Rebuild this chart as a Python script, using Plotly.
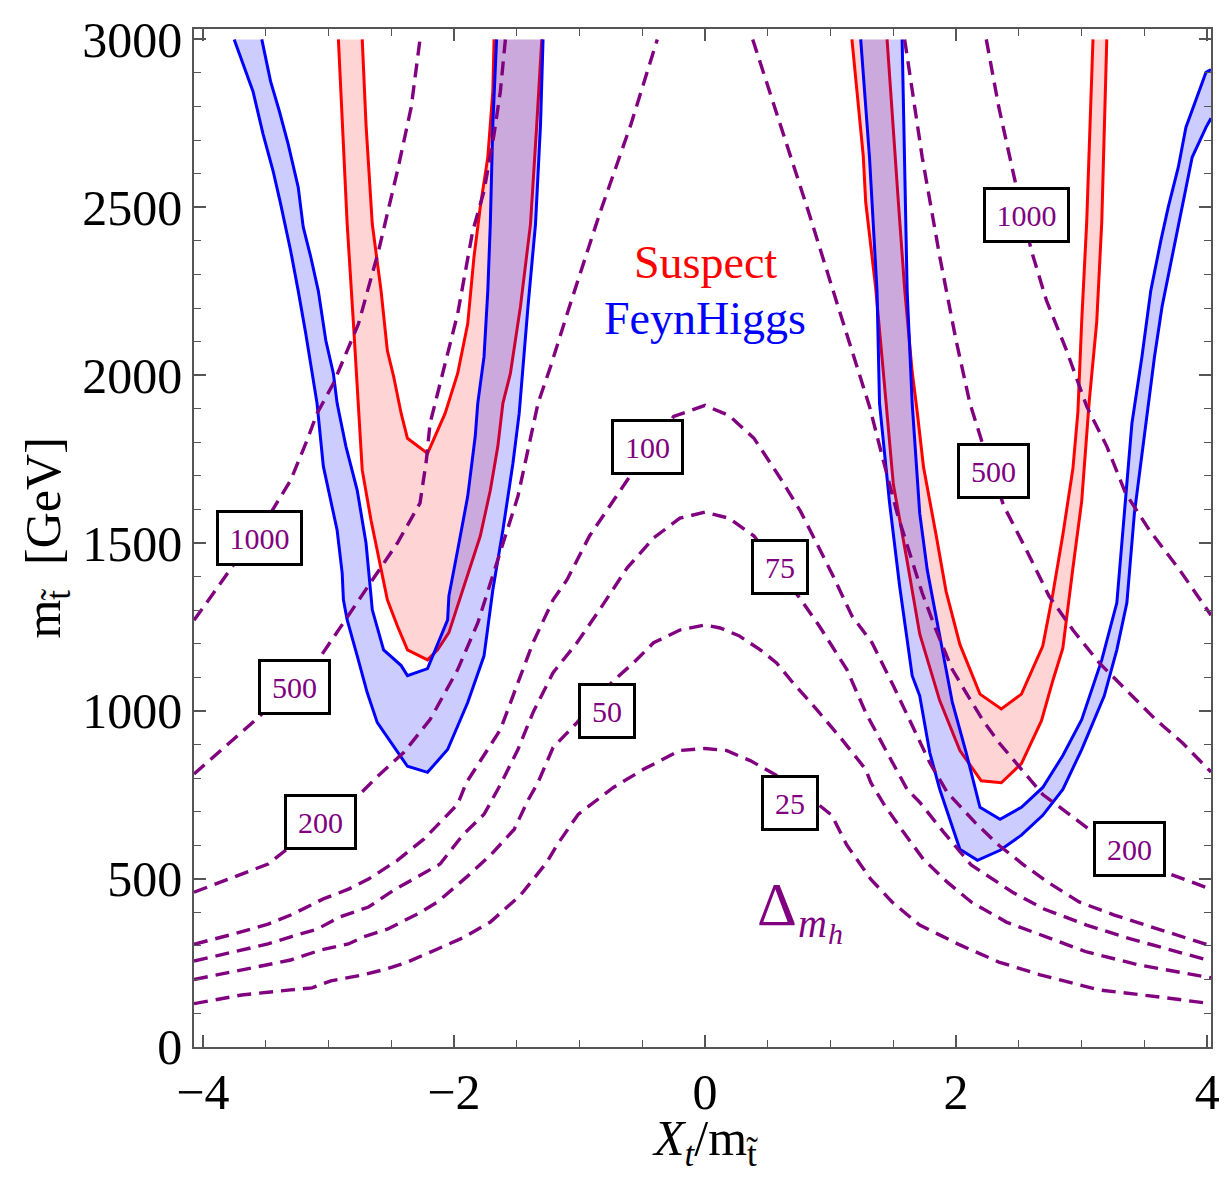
import plotly.graph_objects as go

# ---------------- data (X_t/m_stop , m_stop [GeV]) ----------------
# FeynHiggs (blue) band, left
fhL_out_x = [-3.75, -3.60, -3.52, -3.44, -3.38, -3.30, -3.24, -3.18, -3.09, -3.04, -2.93, -2.89, -2.88, -2.85, -2.77,
             -2.69, -2.61, -2.53, -2.37, -2.21, -2.05, -1.89, -1.76, -1.69, -1.61, -1.53, -1.48, -1.41, -1.35, -1.31, -1.29]
fhL_out_m = [3000, 2845, 2718, 2608, 2510, 2370, 2251, 2124, 1916, 1729, 1538, 1411, 1331, 1271, 1164,
             1054, 965, 921, 835, 817, 885, 1025, 1164, 1360, 1538, 1737, 1886, 2204, 2450, 2747, 3000]
fhL_in_x = [-3.53, -3.46, -3.39, -3.32, -3.24, -3.20, -3.14, -3.08, -3.02, -2.96, -2.93, -2.86, -2.77, -2.70, -2.66,
            -2.65, -2.56, -2.42, -2.37, -2.21, -2.05, -2.04, -1.97, -1.89, -1.83, -1.81, -1.76, -1.73, -1.71, -1.69, -1.66]
fhL_in_m = [3000, 2875, 2786, 2688, 2560, 2441, 2352, 2251, 2103, 2005, 1916, 1788, 1657, 1500, 1342,
            1301, 1182, 1135, 1105, 1126, 1271, 1342, 1479, 1639, 1818, 1916, 2055, 2251, 2450, 2747, 3000]

# Suspect (red) band, left
spL_out_x = [-2.92, -2.89, -2.85, -2.80, -2.76, -2.73, -2.66, -2.60, -2.53, -2.45, -2.37, -2.21, -2.13, -2.04,
             -1.89, -1.79, -1.71, -1.65, -1.61, -1.55, -1.47, -1.39, -1.34, -1.30]
spL_out_m = [3000, 2747, 2450, 2153, 1916, 1717, 1568, 1461, 1331, 1253, 1182, 1152, 1182, 1233,
             1402, 1521, 1657, 1788, 1916, 2005, 2204, 2450, 2747, 3000]
spL_in_x = [-2.73, -2.70, -2.65, -2.58, -2.53, -2.48, -2.42, -2.37, -2.21, -2.07, -1.97, -1.89, -1.84, -1.79,
            -1.73, -1.69, -1.68]
spL_in_m = [3000, 2747, 2450, 2251, 2073, 1996, 1886, 1812, 1767, 1886, 2005, 2153, 2352, 2501,
            2649, 2845, 3000]

# FeynHiggs (blue) band, right
fhR_out_x = [1.24, 1.31, 1.37, 1.39, 1.47, 1.55, 1.65, 1.71, 1.79, 1.87, 2.03, 2.17, 2.35, 2.52, 2.69, 2.85,
             3.00, 3.18, 3.28, 3.36, 3.42, 3.51, 3.58, 3.64, 3.72, 3.80, 3.88, 3.99, 4.03]
fhR_out_m = [3000, 2649, 2251, 1916, 1619, 1372, 1105, 1045, 876, 766, 588, 555, 585, 630, 689, 766,
             885, 1045, 1182, 1322, 1589, 1856, 2055, 2204, 2352, 2501, 2649, 2738, 2765]
fhR_in_x = [1.57, 1.59, 1.61, 1.65, 1.71, 1.77, 1.87, 1.97, 2.08, 2.19, 2.35, 2.52, 2.69, 2.85, 3.00, 3.16,
            3.28, 3.34, 3.40, 3.48, 3.55, 3.63, 3.69, 3.77, 3.83, 3.99, 4.03]
fhR_in_m = [3000, 2649, 2251, 1916, 1589, 1420, 1224, 1025, 876, 713, 677, 713, 772, 867, 974, 1152,
            1322, 1589, 1856, 2055, 2251, 2400, 2501, 2620, 2738, 2902, 2910]

# Suspect (red) band, right
spR_out_x = [1.17, 1.26, 1.28, 1.36, 1.42, 1.46, 1.50, 1.61, 1.71, 1.87, 2.03, 2.20, 2.36, 2.52, 2.68, 2.77,
             2.85, 2.93, 3.00, 3.06, 3.12, 3.16, 3.18, 3.20]
spR_out_m = [3000, 2655, 2515, 2257, 2010, 1832, 1675, 1446, 1229, 1030, 882, 792, 786, 843, 971, 1090,
             1187, 1425, 1624, 1921, 2159, 2456, 2753, 3000]
spR_in_x = [1.45, 1.51, 1.54, 1.59, 1.65, 1.69, 1.74, 1.84, 1.92, 2.03, 2.19, 2.36, 2.52, 2.69, 2.77, 2.85,
            2.93, 2.97, 3.00, 3.04, 3.07, 3.09]
spR_in_m = [3000, 2655, 2515, 2257, 2010, 1891, 1727, 1525, 1356, 1198, 1050, 1006, 1050, 1193, 1348, 1525,
            1721, 1891, 2159, 2456, 2753, 3000]

# Delta m_h contours (dashed)
c25_x = [-4.07, -3.69, -3.30, -3.13, -2.98, -2.72, -2.53, -2.37, -2.13, -1.93, -1.71, -1.47, -1.26, -1.18, -1.01,
         -0.78, -0.73, -0.49, -0.20, 0.0, 0.17, 0.36, 0.57, 0.91, 1.01, 1.13, 1.32, 1.49, 1.71, 2.03, 2.34, 2.67,
         3.14, 3.62, 4.03]
c25_m = [128, 154, 169, 175, 196, 214, 232, 252, 291, 324, 371, 451, 549, 600, 692,
         757, 772, 826, 882, 888, 882, 852, 808, 719, 689, 600, 499, 431, 362, 303, 252, 214,
         169, 148, 128]
c50_x = [-4.07, -3.69, -3.48, -3.30, -3.06, -2.84, -2.72, -2.53, -2.29, -2.13, -1.90, -1.71, -1.52, -1.41, -1.33,
         -1.21, -1.02, -0.73, -0.57, -0.41, -0.20, 0.0, 0.12, 0.27, 0.44, 0.57, 0.70, 0.89, 1.09, 1.28, 1.32,
         1.43, 1.58, 1.74, 1.93, 2.12, 2.40, 2.67, 3.04, 3.45, 4.03]
c50_m = [200, 229, 244, 258, 288, 306, 327, 350, 395, 431, 505, 570, 647, 734, 787,
         891, 965, 1090, 1143, 1203, 1241, 1256, 1247, 1224, 1182, 1143, 1084, 1004, 915, 826, 787,
         719, 639, 558, 490, 431, 371, 333, 282, 244, 205]
c75_x = [-4.07, -3.75, -3.48, -3.30, -3.09, -2.91, -2.68, -2.48, -2.29, -2.11, -1.93, -1.76, -1.63, -1.49, -1.37,
         -1.21, -1.02, -0.84, -0.62, -0.41, -0.20, 0.0, 0.19, 0.39, 0.77, 0.91, 1.13, 1.28, 1.45, 1.61, 1.71,
         1.90, 2.12, 2.45, 2.70, 3.04, 3.39, 4.03]
c75_m = [255, 282, 306, 327, 350, 386, 416, 466, 505, 544, 630, 692, 780, 885, 995,
         1114, 1203, 1301, 1426, 1515, 1574, 1592, 1574, 1521, 1328, 1253, 1123, 995, 876, 766, 728,
         639, 541, 460, 410, 362, 321, 255]
c100_x = [-4.07, -3.75, -3.48, -3.30, -3.04, -2.84, -2.68, -2.45, -2.24, -2.09, -1.97, -1.90, -1.63, -1.49, -1.37,
          -1.21, -1.10, -0.92, -0.76, -0.62, -0.25, 0.0, 0.19, 0.39, 0.60, 0.76, 0.86, 1.02, 1.17, 1.33, 1.50,
          1.69, 1.79, 1.93, 2.15, 2.34, 2.54, 2.73, 2.98, 3.26, 3.62, 4.03]
c100_m = [305, 336, 365, 392, 440, 469, 499, 555, 618, 674, 722, 787, 944, 1084, 1203,
          1331, 1390, 1521, 1610, 1687, 1877, 1910, 1880, 1812, 1693, 1595, 1521, 1402, 1283, 1203, 1075,
          927, 846, 757, 668, 600, 541, 490, 431, 392, 350, 300]
c200L_x = [-4.07, -3.75, -3.48, -3.34, -2.76, -2.60, -2.40, -2.19, -1.97, -1.81, -1.65, -1.49, -1.33, -1.23,
           -1.08, -0.84, -0.59, -0.38]
c200L_m = [460, 505, 544, 585, 748, 808, 876, 974, 1123, 1262, 1449, 1639, 1916, 2026,
           2204, 2480, 2747, 3000]
c200R_x = [0.38, 0.60, 0.83, 1.07, 1.17, 1.31, 1.42, 1.53, 1.63, 1.73, 1.84, 1.97, 2.08, 2.21, 2.34, 2.51,
           2.69, 2.88, 3.06, 3.66, 3.88, 4.03]
c200R_m = [3000, 2747, 2480, 2192, 2073, 1907, 1746, 1589, 1470, 1351, 1241, 1123, 1054, 974, 906, 832,
           751, 698, 647, 520, 490, 469]
c500L_x = [-4.07, -4.01, -3.56, -3.08, -2.84, -2.66, -2.45, -2.27, -2.22, -2.19, -2.09, -1.97, -1.85, -1.76,
           -1.68, -1.63, -1.59]
c500L_m = [812, 832, 980, 1152, 1283, 1381, 1500, 1619, 1744, 1856, 2005, 2183, 2429, 2548,
           2718, 2845, 3000]
c500R_x = [1.59, 1.73, 1.87, 2.00, 2.11, 2.16, 2.21, 2.38, 2.56, 2.74, 2.93, 3.14, 3.35, 3.59, 3.80, 4.03]
c500R_m = [3000, 2649, 2352, 2103, 1916, 1856, 1797, 1610, 1479, 1342, 1241, 1143, 1063, 974, 906, 818]
c1000L_x = [-4.07, -4.01, -3.45, -3.30, -3.17, -3.09, -2.96, -2.76, -2.60, -2.45, -2.34, -2.27]
c1000L_m = [1270, 1301, 1595, 1687, 1806, 1886, 1975, 2153, 2370, 2608, 2798, 3000]
c1000R_x = [2.24, 2.34, 2.48, 2.60, 2.72, 2.88, 3.04, 3.20, 3.35, 3.54, 3.78, 4.01, 4.03]
c1000R_m = [3000, 2798, 2560, 2370, 2222, 2073, 1907, 1788, 1648, 1538, 1420, 1292, 1285]

# contour labels
label_text = ["1000", "500", "200", "100", "75", "50", "25", "200", "500", "1000"]
label_x = [-3.55, -3.27, -3.06, -0.46, 0.60, -0.78, 0.68, 3.38, 2.30, 2.56]
label_m = [1515, 1072, 668, 1785, 1429, 1001, 725, 588, 1714, 2477]

x_ticks = [-4, -2, 0, 2, 4]
y_ticks = [0, 500, 1000, 1500, 2000, 2500, 3000]

# ---------------- styling ----------------
RED = "#FF0000"
BLUE = "#0000FF"
PURPLE = "#800080"
RED_FILL = "rgba(255,0,0,0.17)"
BLUE_FILL = "rgba(0,0,255,0.20)"
FONT = "Liberation Serif"
FRAME = "#555555"

fig = go.Figure()


def band(xo, mo, xi, mi, fill, color):
    fig.add_trace(go.Scatter(x=xo + xi[::-1], y=mo + mi[::-1], mode="lines", fill="toself",
                             fillcolor=fill, line=dict(width=0), hoverinfo="skip"))
    for xs, ms in ((xo, mo), (xi, mi)):
        fig.add_trace(go.Scatter(x=xs, y=ms, mode="lines", line=dict(color=color, width=3),
                                 hoverinfo="skip"))


band(spL_out_x, spL_out_m, spL_in_x, spL_in_m, RED_FILL, RED)
band(spR_out_x, spR_out_m, spR_in_x, spR_in_m, RED_FILL, RED)
band(fhL_out_x, fhL_out_m, fhL_in_x, fhL_in_m, BLUE_FILL, BLUE)
band(fhR_out_x, fhR_out_m, fhR_in_x, fhR_in_m, BLUE_FILL, BLUE)

for xs, ms in ((c25_x, c25_m), (c50_x, c50_m), (c75_x, c75_m), (c100_x, c100_m),
               (c200L_x, c200L_m), (c200R_x, c200R_m), (c500L_x, c500L_m), (c500R_x, c500R_m),
               (c1000L_x, c1000L_m), (c1000R_x, c1000R_m)):
    fig.add_trace(go.Scatter(x=xs, y=ms, mode="lines",
                             line=dict(color=PURPLE, width=3.4, dash="14px,8px"), hoverinfo="skip"))

annotations = []
for t, lx, lm in zip(label_text, label_x, label_m):
    w = {4: 81, 3: 67, 2: 52}[len(t)]
    annotations.append(dict(x=lx, y=lm, xref="x", yref="y", text=t, showarrow=False,
                            font=dict(family=FONT, size=30, color=PURPLE),
                            bgcolor="white", bordercolor="black", borderwidth=3, borderpad=0,
                            width=w, height=50, align="center", valign="middle"))

annotations += [
    dict(x=0.0, y=2335, xref="x", yref="y", text="Suspect", showarrow=False,
         font=dict(family=FONT, size=46, color=RED)),
    dict(x=0.0, y=2170, xref="x", yref="y", text="FeynHiggs", showarrow=False,
         font=dict(family=FONT, size=46, color=BLUE)),
    dict(x=0.57, y=425, xref="x", yref="y", text="Δ", showarrow=False,
         font=dict(family=FONT, size=62, color=PURPLE)),
    dict(x=0.86, y=366, xref="x", yref="y", text="<i>m</i>", showarrow=False,
         font=dict(family=FONT, size=40, color=PURPLE)),
    dict(x=1.04, y=338, xref="x", yref="y", text="<i>h</i>", showarrow=False,
         font=dict(family=FONT, size=30, color=PURPLE)),
    dict(x=0.5025, y=-0.093, xref="paper", yref="paper", text="<i>X</i><sub><i>t</i></sub>/m<sub>t̃</sub>",
         showarrow=False, font=dict(family=FONT, size=50, color="black"), yanchor="middle"),
    dict(x=-0.145, y=0.5, xref="paper", yref="paper", text="m<sub>t̃</sub>\u00a0\u00a0[GeV]",
         showarrow=False, textangle=-90, font=dict(family=FONT, size=50, color="black"),
         xanchor="center", yanchor="middle"),
]

axis_common = dict(showgrid=False, zeroline=False, showline=True, linecolor=FRAME, linewidth=1.5,
                   mirror="ticks", ticks="inside", ticklen=12, tickwidth=1.5, tickcolor=FRAME,
                   tickfont=dict(family=FONT, size=50, color="black"))

fig.update_layout(
    width=1232, height=1178,
    margin=dict(l=194, r=12, t=26, b=131),
    paper_bgcolor="white", plot_bgcolor="white",
    showlegend=False,
    annotations=annotations,
    xaxis=dict(range=[-4.07, 4.03], tickvals=x_ticks, ticktext=["\u22124", "\u22122", "0", "2", "4"],
               minor=dict(dtick=0.5, ticks="inside", ticklen=7, tickwidth=1.2, tickcolor=FRAME),
               **axis_common),
    yaxis=dict(range=[-1, 3031], tickvals=y_ticks,
               minor=dict(dtick=100, ticks="inside", ticklen=7, tickwidth=1.2, tickcolor=FRAME),
               **axis_common),
)

# remove the browser's default 8px body margin so the figure sits at the page origin
fig.write_html("out.html", config={"displayModeBar": False},
               post_script="document.body.style.margin='0';document.body.style.overflow='hidden';")
